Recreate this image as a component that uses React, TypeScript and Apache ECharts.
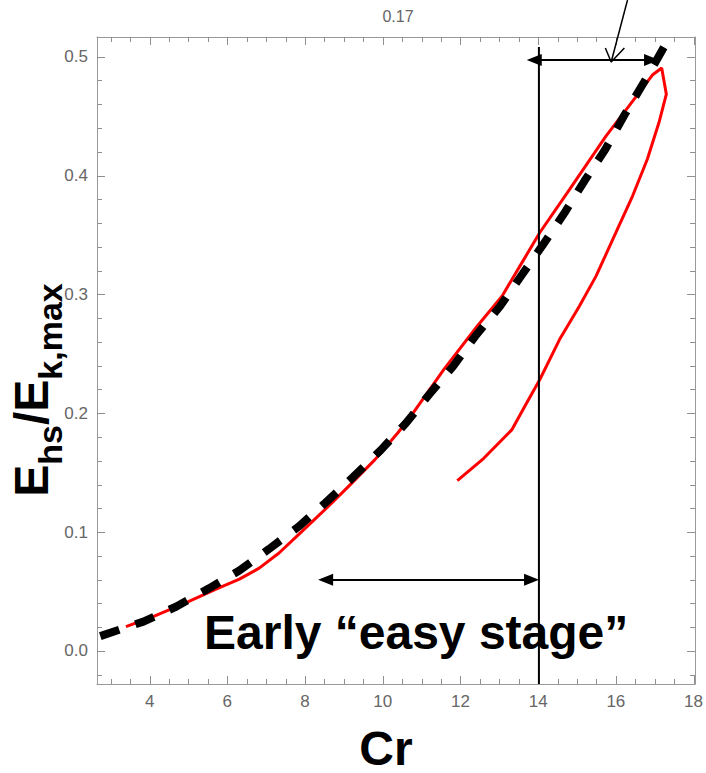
import React, { useEffect, useRef } from "react";
import * as echarts from "echarts";

// ---- data ----
const redCurve: [number, number][] = [
  [3.39, 0.0205], [4.09, 0.0289], [4.94, 0.0407], [5.71, 0.052], [6.31, 0.0604],
  [6.82, 0.0697], [7.33, 0.0824], [8.01, 0.1034], [8.69, 0.1245], [9.12, 0.1385],
  [9.8, 0.161], [10.39, 0.1836], [10.72, 0.1973], [11.57, 0.2367], [12.43, 0.2732],
  [13.07, 0.2985], [13.53, 0.3238], [14.04, 0.3519], [14.81, 0.3884], [15.75, 0.4334],
  [16.34, 0.4587], [16.94, 0.4846], [17.18, 0.4905], [17.3, 0.4685], [17.11, 0.4446],
  [16.81, 0.4137], [16.43, 0.3828], [16.0, 0.3519], [15.49, 0.3154], [15.06, 0.29],
  [14.55, 0.262], [14.04, 0.2282], [13.7, 0.2085], [13.32, 0.186], [12.6, 0.1621],
  [11.92, 0.1433],
];

const dashedCurve: [number, number][] = [
  [2.73, 0.0125], [3.84, 0.0247], [4.69, 0.0374], [5.54, 0.0529], [6.31, 0.0677],
  [7.07, 0.0857], [7.84, 0.1048], [8.52, 0.1245], [9.24, 0.1464], [9.95, 0.169],
  [10.6, 0.1918], [11.19, 0.2156], [11.81, 0.2395], [12.38, 0.2648], [13.02, 0.29],
  [13.57, 0.3159], [14.13, 0.3421], [14.68, 0.3687], [15.19, 0.3954], [15.73, 0.4222],
  [16.21, 0.4503], [16.72, 0.4783], [17.26, 0.5093], [17.39, 0.5135],
];

const xMajorTicks = [4, 6, 8, 10, 12, 14, 16, 18];
const xMinorTicks = [
  3, 3.5, 4.5, 5, 5.5, 6.5, 7, 7.5, 8.5, 9, 9.5, 10.5, 11, 11.5,
  12.5, 13, 13.5, 14.5, 15, 15.5, 16.5, 17, 17.5,
];
const yMajorTicks = [0, 0.1, 0.2, 0.3, 0.4, 0.5];
const yMinorTicks = [
  -0.02, 0.02, 0.04, 0.06, 0.08, 0.12, 0.14, 0.16, 0.18, 0.22, 0.24,
  0.26, 0.28, 0.32, 0.34, 0.36, 0.38, 0.42, 0.44, 0.46, 0.48,
];

const X_MIN = 2.645;
const X_MAX = 18.04;
const Y_MIN = -0.0278;
const Y_MAX = 0.5166;

// annotations (data coordinates)
const verticalLine: [number, number][] = [[14.02, 0.5082], [14.02, Y_MIN]];
const topArrow: [number, number][] = [[13.9, 0.4973], [16.92, 0.4973]];
const bottomArrow: [number, number][] = [[8.53, 0.0599], [13.83, 0.0599]];
const pointerShaft: [number, number][] = [[16.3, 0.5477], [15.88, 0.4956]];
const pointerHead: [number, number][] = [[15.73, 0.5073], [15.88, 0.4956], [16.22, 0.5073]];

const plotLabel = "0.17";
const xName = "Cr";
const noteText = "Early \u201Ceasy stage\u201D";

const FONT = "'Liberation Sans', Arial, Helvetica, sans-serif";
const FRAME = "#999999";
const LABEL = "#666666";
const TICK = "#8f8f8f";
const MAJOR_LEN = 8;
const MINOR_LEN = 5;

export default function App() {
  const ref = useRef<HTMLDivElement>(null);

  useEffect(() => {
    if (!ref.current) return;
    const chart = echarts.init(ref.current, undefined, { renderer: "svg" });

    const baseAxis = {
      type: "value" as const,
      splitLine: { show: false },
      axisTick: { show: false },
      axisPointer: { show: false },
    };
    const mkX = (position: string, labels: boolean) => ({
      ...baseAxis,
      position,
      min: X_MIN,
      max: X_MAX,
      axisLine: { show: true, onZero: false, lineStyle: { color: FRAME, width: 1 } },
      axisLabel: labels
        ? { show: true, customValues: xMajorTicks, color: LABEL, fontSize: 17, fontFamily: FONT, margin: 9 }
        : { show: false },
    });
    const mkY = (position: string, labels: boolean) => ({
      ...baseAxis,
      position,
      min: Y_MIN,
      max: Y_MAX,
      axisLine: { show: true, onZero: false, lineStyle: { color: FRAME, width: 1 } },
      axisLabel: labels
        ? {
            show: true,
            customValues: yMajorTicks,
            color: LABEL,
            fontSize: 17,
            fontFamily: FONT,
            margin: 9,
            formatter: (v: number) => v.toFixed(1),
          }
        : { show: false },
    });

    const lineBase = {
      type: "line" as const,
      xAxisIndex: 0,
      yAxisIndex: 0,
      symbol: "none",
      showSymbol: false,
      silent: true,
      clip: false,
      emphasis: { disabled: true },
    };

    const crisp = (v: number) => Math.round(v) + 0.5;

    const xTickData = [
      ...xMajorTicks.map((v) => [v, Y_MIN, 1]),
      ...xMinorTicks.map((v) => [v, Y_MIN, 0]),
    ];
    const yTickData = [
      ...yMajorTicks.map((v) => [X_MIN, v, 1]),
      ...yMinorTicks.map((v) => [X_MIN, v, 0]),
    ];
    const tickStyle = { stroke: TICK, lineWidth: 1 };

    chart.setOption({
      animation: false,
      grid: { left: 97, right: 7, top: 37, bottom: 89 },
      xAxis: [mkX("bottom", true), mkX("top", false)],
      yAxis: [mkY("left", true), mkY("right", false)],
      series: [
        {
          type: "custom",
          name: "xTicks",
          xAxisIndex: 0,
          yAxisIndex: 0,
          silent: true,
          clip: false,
          z: 1,
          data: xTickData,
          renderItem: (params: any, api: any) => {
            const v = api.value(0);
            const len = api.value(2) ? MAJOR_LEN : MINOR_LEN;
            const b = api.coord([v, Y_MIN]);
            const t = api.coord([v, Y_MAX]);
            const x = crisp(b[0]);
            return {
              type: "group",
              children: [
                { type: "line", shape: { x1: x, y1: b[1], x2: x, y2: b[1] - len }, style: tickStyle },
                { type: "line", shape: { x1: x, y1: t[1], x2: x, y2: t[1] + len }, style: tickStyle },
              ],
            };
          },
        },
        {
          type: "custom",
          name: "yTicks",
          xAxisIndex: 0,
          yAxisIndex: 0,
          silent: true,
          clip: false,
          z: 1,
          data: yTickData,
          renderItem: (params: any, api: any) => {
            const v = api.value(1);
            const len = api.value(2) ? MAJOR_LEN : MINOR_LEN;
            const l = api.coord([X_MIN, v]);
            const r = api.coord([X_MAX, v]);
            const y = crisp(l[1]);
            return {
              type: "group",
              children: [
                { type: "line", shape: { x1: l[0], y1: y, x2: l[0] + len, y2: y }, style: tickStyle },
                { type: "line", shape: { x1: r[0], y1: y, x2: r[0] - len, y2: y }, style: tickStyle },
              ],
            };
          },
        },
        {
          ...lineBase,
          name: "red",
          data: redCurve,
          z: 2,
          lineStyle: { color: "#ff0000", width: 3 },
        },
        {
          ...lineBase,
          name: "dashed",
          data: dashedCurve,
          z: 3,
          lineStyle: { color: "#000000", width: 8, type: [20, 17], cap: "butt" },
        },
        {
          ...lineBase,
          name: "vline",
          data: verticalLine,
          z: 4,
          lineStyle: { color: "#000000", width: 2 },
          markLine: {
            silent: true,
            symbol: ["triangle", "triangle"],
            symbolSize: [12, 15],
            label: { show: false },
            lineStyle: { color: "#000000", width: 2, type: "solid" },
            emphasis: { disabled: true },
            data: [
              [{ coord: topArrow[0] }, { coord: topArrow[1] }],
              [{ coord: bottomArrow[0] }, { coord: bottomArrow[1] }],
            ],
          },
        },
        {
          ...lineBase,
          name: "pointer",
          data: pointerShaft,
          z: 4,
          lineStyle: { color: "#000000", width: 1.5 },
        },
        {
          ...lineBase,
          name: "pointerHead",
          data: pointerHead,
          z: 4,
          lineStyle: { color: "#000000", width: 1.5 },
        },
      ],
      graphic: [
        {
          type: "text",
          x: 398,
          y: 16,
          style: { text: plotLabel, fill: LABEL, fontSize: 16, fontFamily: FONT, align: "center", verticalAlign: "middle" },
        },
        {
          type: "text",
          x: 386,
          y: 748,
          style: {
            text: xName,
            fill: "#000",
            fontSize: 48,
            fontWeight: "bold",
            fontFamily: FONT,
            align: "center",
            verticalAlign: "middle",
          },
        },
        {
          type: "text",
          x: 204,
          y: 632,
          z: 10,
          style: {
            text: noteText,
            fill: "#000",
            fontSize: 48,
            fontWeight: "bold",
            fontFamily: FONT,
            align: "left",
            verticalAlign: "middle",
          },
        },
        {
          type: "text",
          x: 31,
          y: 390,
          rotation: Math.PI / 2,
          style: {
            text: "{m|E}{s|hs}{m|/E}{s|k,max}",
            fill: "#000",
            fontFamily: FONT,
            fontWeight: "bold",
            fontSize: 48,
            align: "center",
            verticalAlign: "middle",
            rich: {
              m: { fontSize: 48, fontWeight: "bold", fontFamily: FONT, lineHeight: 48, verticalAlign: "top", fill: "#000" },
              s: {
                fontSize: 34,
                fontWeight: "bold",
                fontFamily: FONT,
                lineHeight: 34,
                verticalAlign: "top",
                padding: [26, 0, 0, 0],
                fill: "#000",
              },
            },
          },
        },
      ],
    });

    return () => chart.dispose();
  }, []);

  return (
    <div
      ref={ref}
      style={{ position: "fixed", left: 0, top: 0, width: 706, height: 773, background: "#fff" }}
    />
  );
}
